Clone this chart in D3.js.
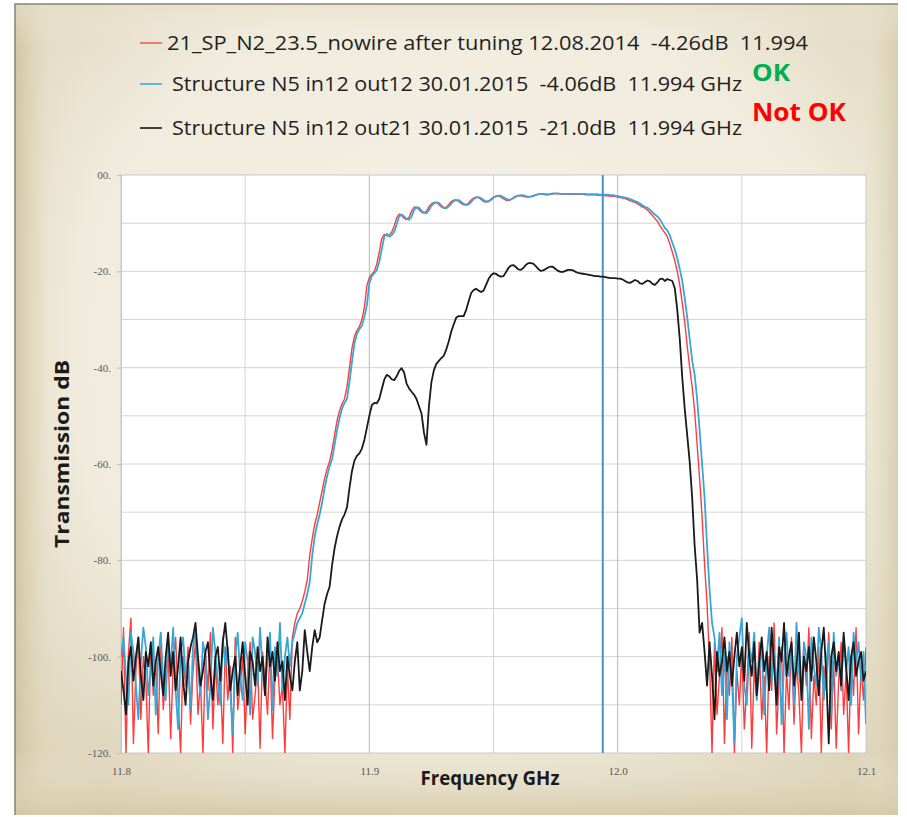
<!DOCTYPE html>
<html><head><meta charset="utf-8">
<script src="https://cdn.jsdelivr.net/npm/d3@7/dist/d3.min.js"></script>
<style>html,body{margin:0;padding:0;background:#fff;}svg{display:block;}</style>
</head><body>
<script>
// ---- data ----
const freqStart = 11.8, freqStep = 0.001, nPoints = 301;
const freq = d3.range(nPoints).map(i => +(freqStart + i * freqStep).toFixed(3));
const xTicks = [11.8, 11.9, 12.0, 12.1];
const xGrid = [11.85, 11.9, 11.95, 12.0, 12.05];
const yTicks = [0, -20, -40, -60, -80, -100, -120];
const yGrid = [-10, -20, -30, -40, -50, -60, -70, -80, -90, -100, -110];
const markerFreq = 11.994;
const seriesNames = [
  "21_SP_N2_23.5_nowire after tuning 12.08.2014  -4.26dB  11.994",
  "Structure N5 in12 out12 30.01.2015  -4.06dB  11.994 GHz",
  "Structure N5 in12 out21 30.01.2015  -21.0dB  11.994 GHz"
];
const redDb = [
-110,-94,-120,-99,-92,-118,-103,-96,-113,-100,
-105,-120,-97,-108,-101,-116,-95,-111,-104,-99,
-117,-102,-96,-109,-120,-100,-106,-98,-114,-103,
-97,-112,-105,-120,-99,-107,-95,-115,-101,-110,
-104,-118,-98,-109,-102,-120,-96,-111,-106,-100,
-116,-103,-97,-113,-108,-101,-119,-99,-105,-112,
-98,-117,-104,-100,-110,-106,-120,-102,-113,-96,
-93,-91,-90,-88.5,-86.5,-84,-79,-75.5,-72.5,-70.5,
-68,-65.5,-63,-61,-59.5,-57,-54,-51,-49,-47.5,
-46.5,-44,-40,-36,-33.5,-32.3,-31.5,-30,-27.5,-23,
-21.3,-20.6,-20,-18.5,-16,-13.2,-12.3,-12.6,-12.5,-11.9,
-10.6,-8.9,-8.1,-8.4,-9.0,-9.2,-8.8,-7.5,-6.7,-6.7,
-7.2,-7.7,-7.9,-7.5,-6.6,-6.0,-5.7,-5.7,-6.1,-6.6,
-6.9,-6.7,-6.1,-5.5,-5.2,-5.2,-5.5,-5.9,-6.2,-6.2,
-5.8,-5.2,-4.8,-4.6,-4.7,-5.1,-5.5,-5.6,-5.4,-5.0,
-4.6,-4.4,-4.4,-4.6,-4.9,-5.2,-5.3,-5.1,-4.7,-4.4,
-4.3,-4.3,-4.4,-4.6,-4.6,-4.5,-4.3,-4.1,-4.0,-3.9,
-4.0,-4.1,-4.1,-4.0,-3.9,-3.9,-3.9,-3.9,-4.0,-4.0,
-4.0,-4.0,-4.0,-4.0,-4.0,-4.0,-4.0,-4.1,-4.1,-4.1,
-4.1,-4.1,-4.2,-4.2,-4.2,-4.3,-4.3,-4.4,-4.4,-4.5,
-4.6,-4.7,-4.8,-4.9,-5.1,-5.3,-5.5,-5.7,-6.0,-6.3,
-6.6,-6.9,-7.3,-7.8,-8.4,-9.0,-9.6,-10.5,-11.3,-12.0,
-12.8,-14.3,-16,-17.8,-20,-22.8,-26.5,-30.5,-35.5,-40,
-44,-49,-56,-63,-71,-81,-89,-101,-120,-97,
-112,-104,-94,-118,-100,-108,-96,-120,-103,-110,
-99,-115,-106,-95,-119,-102,-109,-97,-113,-104,
-120,-100,-107,-93,-116,-105,-98,-120,-103,-111,
-96,-114,-101,-108,-120,-99,-106,-94,-117,-104,
-110,-98,-120,-102,-107,-95,-115,-101,-119,-105,
-97,-112,-103,-120,-100,-108,-94,-116,-102,-109,-98
];
const blueDb = [
-100,-96,-104,-110,-95,-99,-106,-113,-101,-94,
-98,-108,-103,-96,-112,-100,-95,-105,-109,-97,
-102,-94,-107,-115,-99,-96,-104,-101,-111,-98,
-95,-103,-108,-97,-100,-113,-106,-94,-99,-105,
-110,-96,-102,-98,-107,-116,-100,-95,-104,-109,
-97,-101,-112,-96,-99,-106,-94,-103,-108,-100,
-95,-111,-98,-104,-93,-107,-100,-96,-102,-97,
-95,-93,-92,-91,-89,-87,-84.5,-79,-75,-72.5,
-70.5,-68,-65,-62.5,-60.5,-59,-56,-53,-50.5,-48.5,
-47.3,-46.5,-43,-38.8,-35,-33,-32,-31.3,-29.5,-27,
-22.5,-21,-20.4,-19.8,-18,-15.5,-12.8,-12.2,-12.8,-12.5,
-11.8,-10.3,-8.6,-8.2,-8.6,-9.1,-9.3,-8.6,-7.3,-6.7,
-6.8,-7.4,-7.8,-7.9,-7.3,-6.4,-5.9,-5.7,-5.8,-6.3,
-6.8,-6.9,-6.5,-5.9,-5.4,-5.2,-5.2,-5.6,-6.0,-6.2,
-6.1,-5.6,-5.0,-4.7,-4.6,-4.8,-5.2,-5.5,-5.5,-5.2,
-4.7,-4.4,-4.3,-4.3,-4.6,-4.9,-5.1,-5.1,-4.8,-4.5,
-4.3,-4.2,-4.2,-4.4,-4.5,-4.5,-4.4,-4.2,-4.0,-3.9,
-3.9,-4.0,-4.0,-3.9,-3.8,-3.8,-3.8,-3.9,-3.9,-3.9,
-3.9,-3.9,-3.9,-3.9,-3.9,-3.9,-3.9,-3.9,-4.0,-4.0,
-4.0,-4.0,-4.0,-4.1,-4.1,-4.1,-4.1,-4.2,-4.2,-4.3,
-4.4,-4.5,-4.6,-4.7,-4.8,-5.0,-5.2,-5.4,-5.6,-5.9,
-6.3,-6.6,-6.8,-7.2,-7.7,-8.2,-8.6,-9.2,-10.1,-11.0,
-11.5,-12.5,-14.0,-15.5,-17.3,-19.5,-22.0,-25.5,-29.5,-34.0,
-38.5,-41.5,-46.5,-53,-60,-67,-77,-86,-93,-96,
-103,-95,-108,-99,-113,-97,-104,-118,-100,-96,
-92,-106,-110,-98,-101,-95,-109,-103,-97,-112,
-100,-94,-105,-99,-107,-96,-114,-101,-95,-104,
-98,-110,-93,-103,-108,-97,-100,-115,-96,-102,
-106,-94,-99,-109,-101,-97,-112,-95,-104,-100,
-107,-96,-103,-98,-110,-95,-101,-97,-105,-99,-114
];
const blackDb = [
-103,-107,-112,-101,-98,-105,-100,-96,-104,-109,
-99,-102,-97,-106,-101,-98,-103,-108,-100,-95,
-104,-99,-107,-102,-96,-105,-110,-101,-98,-96,
-93,-100,-106,-103,-99,-97,-104,-109,-100,-98,
-105,-97,-93,-99,-107,-103,-100,-108,-102,-97,
-104,-110,-99,-101,-106,-98,-103,-100,-108,-96,
-102,-99,-105,-97,-103,-101,-109,-100,-104,-107,
-101,-97,-107,-103,-94.5,-99,-103,-98,-94.5,-97,
-96,-92.4,-89,-87,-85.5,-81,-77.5,-75,-73,-71.5,
-70.5,-69,-65,-61.5,-59.3,-58.3,-57.8,-56.8,-55,-52.5,
-50,-47.8,-47.3,-47.4,-46.5,-44.5,-42.5,-41.5,-41.8,-42.4,
-42.6,-41.8,-40.7,-40.1,-41,-43.3,-44.3,-45,-45.6,-46.5,
-48,-49.5,-53.5,-56,-48,-43,-40.5,-39.2,-38.6,-38,
-37.5,-36.2,-34.5,-32.5,-31,-29.6,-29.3,-29.3,-29.3,-28,
-26.2,-24.5,-23.9,-23.6,-24,-24.3,-24,-22.8,-21.6,-20.8,
-20.4,-20.5,-20.9,-21.1,-21.0,-20.2,-19.3,-18.8,-18.7,-19.1,
-19.6,-19.7,-19.3,-18.7,-18.3,-18.3,-18.4,-18.9,-19.5,-19.9,
-19.8,-19.5,-19.2,-19.0,-19.1,-19.5,-19.9,-20.1,-20.1,-19.9,
-19.7,-19.7,-19.8,-20.1,-20.3,-20.4,-20.5,-20.6,-20.7,-20.8,
-20.9,-21.0,-21.0,-21.1,-21.1,-21.2,-21.3,-21.4,-21.4,-21.4,
-21.5,-21.5,-21.7,-22.0,-22.3,-22.4,-22.1,-21.8,-22.0,-22.5,
-22.6,-22.2,-21.9,-22.1,-22.6,-22.8,-22.3,-21.6,-21.5,-22.0,
-21.6,-21.8,-22.0,-23.5,-28,-34,-42,-48.5,-54,-59.5,
-67,-77,-84,-95,-93,-99,-106,-97,-104,-113,
-99,-104,-101,-96,-103,-99,-106,-100,-95,-102,
-98,-105,-93,-100,-104,-97,-108,-101,-96,-103,
-99,-107,-94,-102,-110,-98,-101,-93,-104,-100,
-97,-106,-102,-95,-109,-100,-103,-98,-105,-96,
-101,-108,-99,-94,-104,-118,-100,-97,-103,-99,
-106,-95,-102,-109,-100,-97,-104,-101,-99,-105,-103
];

// ---- drawing ----
const W = 907, H = 817;
const plot = {left: 121, right: 866, top: 175, bottom: 753};
const svg = d3.select("body").append("svg").attr("width", W).attr("height", H);
const defs = svg.append("defs");
const rg = defs.append("radialGradient").attr("id", "bg").attr("cx", "50%").attr("cy", "42%").attr("r", "72%");
rg.append("stop").attr("offset", "0%").attr("stop-color", "#f6f2e8");
rg.append("stop").attr("offset", "62%").attr("stop-color", "#f0ebdc");
rg.append("stop").attr("offset", "100%").attr("stop-color", "#d8ceb0");
const lg = defs.append("linearGradient").attr("id", "edgeL").attr("x1", "0").attr("x2", "1").attr("y1", "0").attr("y2", "0");
lg.append("stop").attr("offset", "0%").attr("stop-color", "#cfc3a0").attr("stop-opacity", 0.9);
lg.append("stop").attr("offset", "4%").attr("stop-color", "#e6dec8").attr("stop-opacity", 0.3);
lg.append("stop").attr("offset", "10%").attr("stop-color", "#f0ebdc").attr("stop-opacity", 0);
lg.append("stop").attr("offset", "95%").attr("stop-color", "#f0ebdc").attr("stop-opacity", 0);
lg.append("stop").attr("offset", "100%").attr("stop-color", "#d6cbaa").attr("stop-opacity", 0.8);
const bg2 = defs.append("linearGradient").attr("id", "edgeB").attr("x1", "0").attr("x2", "0").attr("y1", "0").attr("y2", "1");
bg2.append("stop").attr("offset", "0%").attr("stop-color", "#e8e0ca").attr("stop-opacity", 0.6);
bg2.append("stop").attr("offset", "5%").attr("stop-color", "#f0ebdc").attr("stop-opacity", 0);
bg2.append("stop").attr("offset", "92%").attr("stop-color", "#f0ebdc").attr("stop-opacity", 0);
bg2.append("stop").attr("offset", "100%").attr("stop-color", "#d4c8a6").attr("stop-opacity", 0.8);
defs.append("clipPath").attr("id", "clip").append("rect")
  .attr("x", plot.left).attr("y", plot.top)
  .attr("width", plot.right - plot.left).attr("height", plot.bottom - plot.top);

const frame = {x: 15, y: 4, w: 883, h: 811};
svg.append("rect").attr("x", frame.x).attr("y", frame.y).attr("width", frame.w).attr("height", frame.h)
  .attr("fill", "url(#bg)");
svg.append("rect").attr("x", frame.x).attr("y", frame.y).attr("width", frame.w).attr("height", frame.h)
  .attr("fill", "url(#edgeL)");
svg.append("rect").attr("x", frame.x).attr("y", frame.y).attr("width", frame.w).attr("height", frame.h)
  .attr("fill", "url(#edgeB)");
svg.append("path")
  .attr("d", `M${frame.x},${frame.y + frame.h} V${frame.y} H${frame.x + frame.w}`)
  .attr("fill", "none").attr("stroke", "#85837a").attr("stroke-width", 1.5);

const x = d3.scaleLinear().domain([11.8, 12.1]).range([plot.left, plot.right]);
const y = d3.scaleLinear().domain([-120, 0]).range([plot.bottom, plot.top]);

svg.append("rect").attr("x", plot.left).attr("y", plot.top)
  .attr("width", plot.right - plot.left).attr("height", plot.bottom - plot.top)
  .attr("fill", "#ffffff");

// gridlines
svg.append("g").selectAll("line").data(yGrid).join("line")
  .attr("x1", plot.left).attr("x2", plot.right)
  .attr("y1", d => y(d)).attr("y2", d => y(d))
  .attr("stroke", "#d4d4d4").attr("stroke-width", 1);
svg.append("g").selectAll("line").data(xGrid).join("line")
  .attr("y1", plot.top).attr("y2", plot.bottom)
  .attr("x1", d => x(d)).attr("x2", d => x(d))
  .attr("stroke", d => (Math.abs(d - 11.9) < 1e-6 || Math.abs(d - 12.0) < 1e-6) ? "#b8b8b8" : "#d4d4d4")
  .attr("stroke-width", 1);

// plot border
svg.append("rect").attr("x", plot.left).attr("y", plot.top)
  .attr("width", plot.right - plot.left).attr("height", plot.bottom - plot.top)
  .attr("fill", "none").attr("stroke", "#c8c8c8").attr("stroke-width", 1);

// axes
const yAxis = d3.axisLeft(y).tickValues(yTicks).tickSize(4).tickPadding(6)
  .tickFormat(d => d === 0 ? "00." : d + ".");
const gy = svg.append("g").attr("transform", `translate(${plot.left},0)`).call(yAxis);
gy.select(".domain").attr("stroke", "#c8c8c8");
gy.selectAll(".tick line").attr("stroke", "#bdbdbd");
gy.selectAll(".tick text").attr("fill", "#595959").attr("font-size", 11)
  .attr("font-family", "Liberation Serif, DejaVu Serif, serif");

const xAxis = d3.axisBottom(x).tickValues(xTicks).tickSize(0).tickPadding(14)
  .tickFormat(d3.format(".1f"));
const gx = svg.append("g").attr("transform", `translate(0,${plot.bottom})`).call(xAxis);
gx.select(".domain").remove();
gx.selectAll(".tick text").attr("fill", "#595959").attr("font-size", 11)
  .attr("font-family", "Liberation Serif, DejaVu Serif, serif");

// marker line
svg.append("line").attr("x1", x(markerFreq)).attr("x2", x(markerFreq))
  .attr("y1", plot.top).attr("y2", plot.bottom)
  .attr("stroke", "#4a8fc8").attr("stroke-width", 2);

// series
const line = d3.line().x((d, i) => x(freq[i])).y(d => y(d));
const gs = svg.append("g").attr("clip-path", "url(#clip)");
gs.append("path").datum(redDb).attr("d", line).attr("fill", "none")
  .attr("stroke", "#ff1a1a").attr("stroke-opacity", 0.85).attr("stroke-width", 1.4).attr("stroke-linejoin", "round");
gs.append("path").datum(blueDb).attr("d", line).attr("fill", "none")
  .attr("stroke", "#3aa6d6").attr("stroke-width", 1.8).attr("stroke-linejoin", "round");
gs.append("path").datum(blackDb).attr("d", line).attr("fill", "none")
  .attr("stroke", "#1a1a1a").attr("stroke-width", 1.8).attr("stroke-linejoin", "round");

// axis titles
svg.append("text").attr("x", 490).attr("y", 785).attr("text-anchor", "middle")
  .attr("font-family", "Open Sans, Lato, sans-serif").attr("font-weight", "bold")
  .attr("font-size", 20).attr("fill", "#1a1a1a")
  .attr("textLength", 139).attr("lengthAdjust", "spacingAndGlyphs").text("Frequency GHz");
svg.append("text").attr("transform", "translate(69,454) rotate(-90)").attr("text-anchor", "middle")
  .attr("font-family", "Open Sans, Lato, sans-serif").attr("font-weight", "bold")
  .attr("font-size", 20).attr("fill", "#1a1a1a")
  .attr("textLength", 188).attr("lengthAdjust", "spacingAndGlyphs").text("Transmission dB");

// legend
const legendColors = ["#f07a7a", "#5bb8dc", "#404040"];
const legendY = [43, 84, 128];
const legendTextX = [167, 172, 172];
const legendW = [641, 570, 570];
seriesNames.forEach((name, i) => {
  svg.append("line").attr("x1", 140).attr("x2", 162).attr("y1", legendY[i]).attr("y2", legendY[i])
    .attr("stroke", legendColors[i]).attr("stroke-width", 2);
  svg.append("text").attr("x", legendTextX[i]).attr("y", legendY[i] + 6.5)
    .attr("font-family", "Open Sans, sans-serif").attr("font-size", 20.5)
    .attr("fill", "#1f1f1f").style("white-space", "pre")
    .attr("textLength", legendW[i]).attr("lengthAdjust", "spacingAndGlyphs").text(name);
});
svg.append("text").attr("x", 752).attr("y", 81).attr("font-family", "Open Sans, sans-serif")
  .attr("font-weight", "bold").attr("font-size", 24).attr("fill", "#00b050")
  .attr("textLength", 38).attr("lengthAdjust", "spacingAndGlyphs").text("OK");
svg.append("text").attr("x", 752).attr("y", 121).attr("font-family", "Open Sans, sans-serif")
  .attr("font-weight", "bold").attr("font-size", 25).attr("fill", "#ff0000")
  .attr("textLength", 94).attr("lengthAdjust", "spacingAndGlyphs").text("Not OK");
</script>
</body></html>
